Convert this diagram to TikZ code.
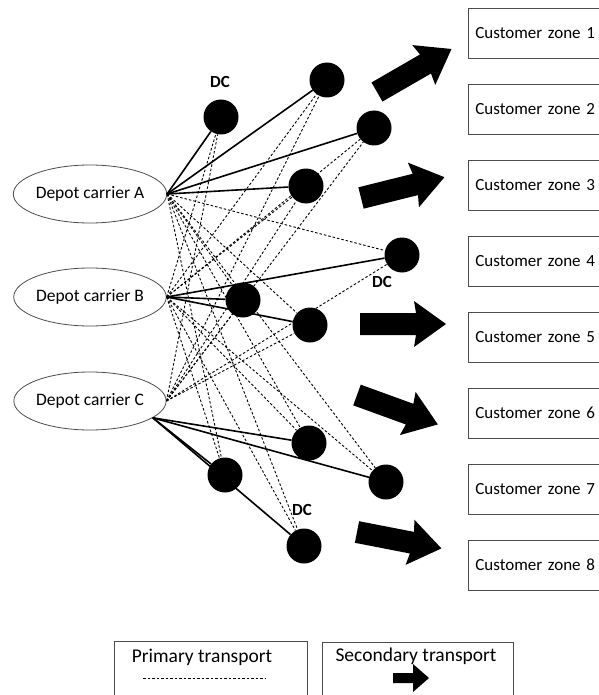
\documentclass[tikz,border=0pt]{standalone}
\usepackage{fontspec}
\setmainfont{Carlito}
\usetikzlibrary{shapes.geometric}

\begin{document}
\begin{tikzpicture}[x=1pt, y=-1pt,
    depot/.style={ellipse, draw=black!70, line width=0.8pt, minimum width=152pt, minimum height=58pt, inner sep=0pt, font=\fontsize{17.5}{20}\selectfont},
    dc/.style={circle, fill=black, minimum size=35pt, inner sep=0pt},
    dclabel/.style={font=\fontsize{17}{20}\selectfont\bfseries},
    zone/.style={rectangle, draw=black!70, line width=0.8pt, anchor=west, minimum height=50pt, text width=136pt, inner xsep=7pt, align=left, font=\fontsize{17}{20}\selectfont},
    legendbox/.style={rectangle, draw=black!70, line width=0.8pt, anchor=north west, minimum height=70pt},
    legendtext/.style={font=\fontsize{19.5}{22}\selectfont},
    route/.style={line width=1.6pt},
    primary/.style={line width=0.9pt, dash pattern=on 2.5pt off 2pt},
    bigarrow/.pic={\fill (0,-11) -- (56,-11) -- (54,-23) -- (86,0) -- (54,23) -- (56,11) -- (0,11) -- cycle;},
    smallarrow/.pic={\fill (0,-5) -- (20,-5) -- (20,-14) -- (36,0) -- (20,14) -- (20,5) -- (0,5) -- cycle;}]
    % Depots, DCs and customer zones
    \useasboundingbox (0,0) rectangle (598,695);
    \node (depA) at (90,194) [depot] {Depot carrier A};
    \node (depB) at (90,297) [depot] {Depot carrier B};
    \node (depC) at (90,401) [depot] {Depot carrier C};

    \node (dc1) at (221,117) [dc] {};
    \node (dc2) at (327,80) [dc] {};
    \node (dc3) at (374,128) [dc] {};
    \node (dc4) at (306,186) [dc] {};
    \node (dc5) at (402,255) [dc] {};
    \node (dc6) at (243,300) [dc] {};
    \node (dc7) at (310,325) [dc] {};
    \node (dc8) at (309,443) [dc] {};
    \node (dc9) at (386,482) [dc] {};
    \node (dc10) at (225,475) [dc] {};
    \node (dc11) at (304,546) [dc] {};

    \node (lblDC1) at (220,82) [dclabel] {DC};
    \node (lblDC2) at (382,282) [dclabel] {DC};
    \node (lblDC3) at (302,510) [dclabel] {DC};

    \foreach \c in {1,...,4} \draw [route] (depA.east) -- (dc\c);
    \foreach \c in {5,6,7} \draw [route] (depB.east) -- (dc\c);
    \foreach \c in {8,...,11} \draw [route] (depC.-15) -- (dc\c);
    \foreach \c in {5,...,11} \draw [primary] (depA.east) -- (dc\c);
    \foreach \c in {1,2,3,4,8,9,10,11} \draw [primary] (depB.east) -- (dc\c);
    \foreach \c in {1,...,7} \draw [primary] (depC.east) -- (dc\c);

    \foreach \i in {1,...,8} \node (cz\i) at (468,{33+76*(\i-1)}) [zone] {Customer zone \i};

    \pic [rotate=30] at (377,92) {bigarrow};
    \pic [rotate=14] at (361,198) {bigarrow};
    \pic at (360,324) {bigarrow};
    \pic [rotate=-20] at (357,395) {bigarrow};
    \pic [rotate=-11] at (357,532) {bigarrow};

    % legend
    \node (legP) at (114,641) [legendbox, minimum width=193pt] {};
    \node (legS) at (322,642) [legendbox, minimum width=191pt] {};
    \node (legPtxt) at (202,657) [legendtext] {Primary transport};
    \node (legStxt) at (416,656) [legendtext] {Secondary transport};
    \coordinate (pS) at (143,678);
    \coordinate (pE) at (265,678);
    \draw [primary, line width=0.6pt] (pS) -- (pE);
    \pic at (393,678) {smallarrow};
\end{tikzpicture}
\end{document}
